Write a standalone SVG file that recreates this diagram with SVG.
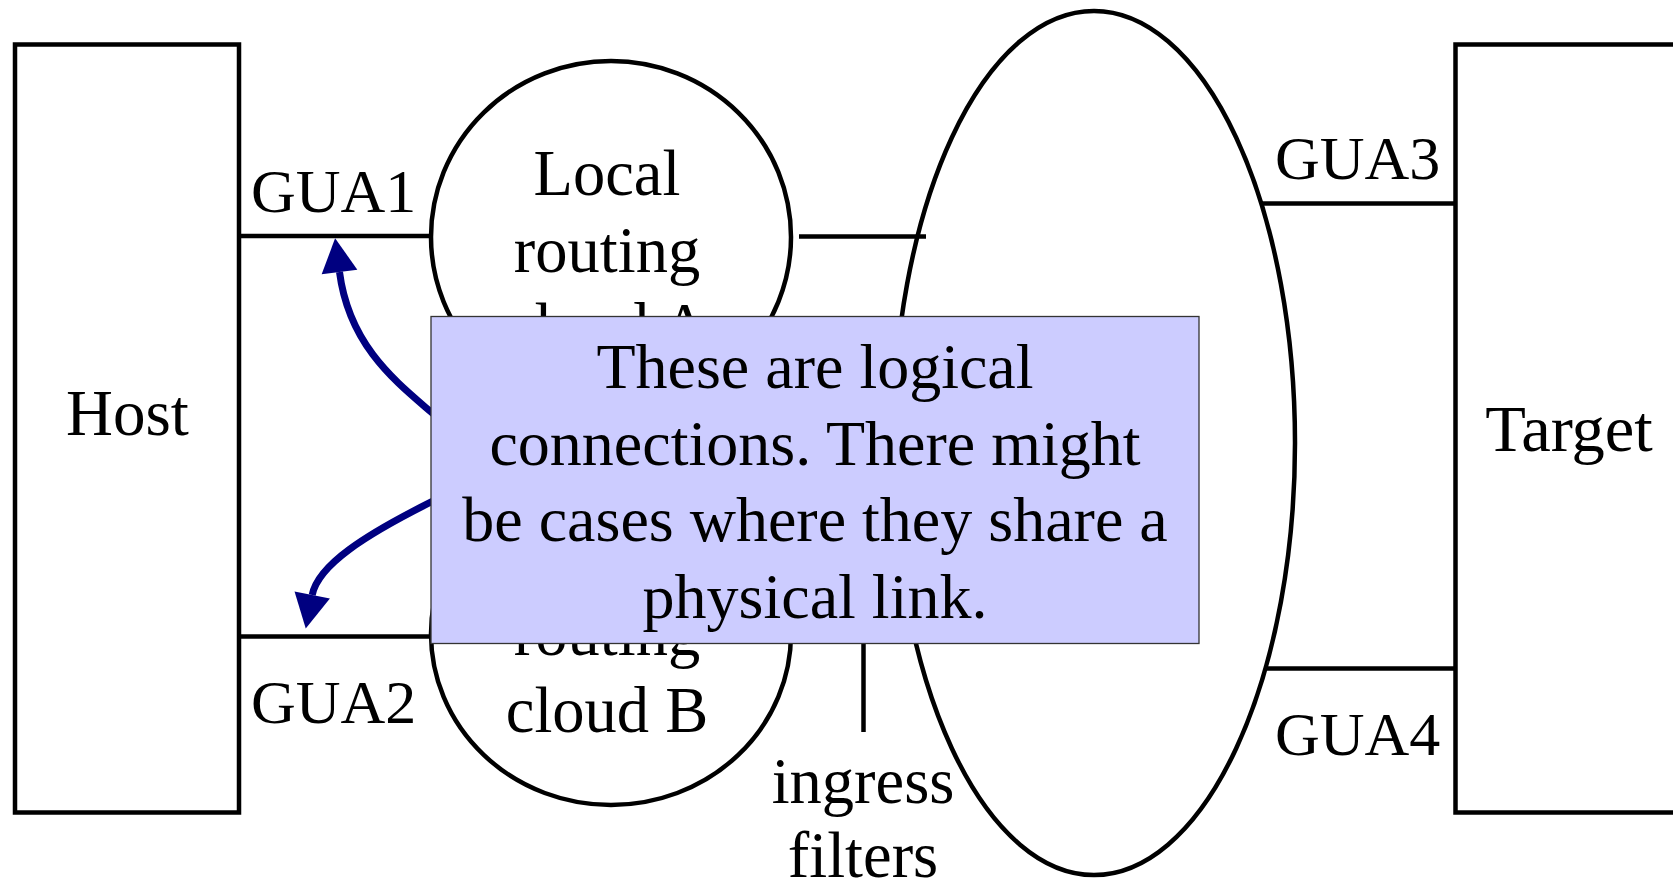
<svg xmlns="http://www.w3.org/2000/svg" width="1673" height="885" viewBox="0 0 1673 885">
<defs>
<style>
.shape{fill:#fff;stroke:#000;stroke-width:4.5}
.ln{stroke:#000;stroke-width:4.5;fill:none}
.t{font-family:"Liberation Serif","Times New Roman",serif;font-size:64.5px;fill:#000}
.g{font-size:62px}
.c{text-anchor:middle}
.arr{stroke:#000080;stroke-width:7;fill:none}
.note{fill:#CCCCFF;stroke:#333;stroke-width:1.3}
.nt{font-family:"Liberation Serif","Times New Roman",serif;font-size:64px;fill:#000;text-anchor:middle}
</style>
<marker id="ah" markerUnits="userSpaceOnUse" viewBox="0 -18 34 36" refX="0" refY="0" markerWidth="34" markerHeight="36" orient="auto" overflow="visible">
<path d="M0,-18 L34,0 L0,18 z" fill="#000080"/>
</marker>
</defs>
<rect width="1673" height="885" fill="#fff"/>

<g id="host">
<rect class="shape" x="15" y="44.5" width="224" height="768"/>
<text class="t c" x="127.5" y="435" style="font-size:65px">Host</text>
</g>

<g id="cloudA">
<ellipse class="shape" cx="611" cy="237" rx="180" ry="176"/>
<text class="t c" x="607" y="195">Local</text>
<text class="t c" x="607" y="271.7">routing</text>
<text class="t c" x="607" y="348.4">cloud A</text>
</g>

<g id="cloudB">
<ellipse class="shape" cx="611" cy="634" rx="180" ry="171"/>
<text class="t c" x="607" y="578.3">Local</text>
<text class="t c" x="607" y="655">routing</text>
<text class="t c" x="607" y="731.7">cloud B</text>
</g>

<g id="core">
<ellipse class="shape" cx="1094" cy="443" rx="201" ry="432"/>
</g>

<g id="target">
<rect class="shape" x="1455.5" y="44.5" width="232" height="768"/>
<text class="t c" x="1569" y="451" style="font-size:66.5px">Target</text>
</g>

<g id="connectors">
<line class="ln" x1="239" y1="236" x2="431" y2="236"/>
<line class="ln" x1="239" y1="636.5" x2="431" y2="636.5"/>
<line class="ln" x1="799" y1="236.5" x2="926" y2="236.5"/>
<line class="ln" x1="799" y1="636" x2="921" y2="636"/>
<line class="ln" x1="863.5" y1="636" x2="863.5" y2="732"/>
<line class="ln" x1="1262" y1="203.5" x2="1455.5" y2="203.5"/>
<line class="ln" x1="1266" y1="668.5" x2="1455.5" y2="668.5"/>
<path class="arr" d="M 440 420 L 431 412 C 395 381, 349 345, 339.5 272" marker-end="url(#ah)"/>
<path class="arr" d="M 440 498 L 431.7 501.7 C 365 535, 318 565, 312.2 595" marker-end="url(#ah)"/>
</g>

<g id="labels">
<text class="t g" x="251" y="211.7">GUA1</text>
<text class="t g" x="251" y="723.3">GUA2</text>
<text class="t g" x="1275" y="178.5">GUA3</text>
<text class="t g" x="1275" y="755">GUA4</text>
<text class="t c" x="863" y="803.3">ingress</text>
<text class="t c" x="863" y="876.7">filters</text>
</g>

<g id="note">
<rect class="note" x="431" y="316.5" width="768" height="327"/>
<text class="nt" x="815" y="388">These are logical</text>
<text class="nt" x="815" y="464.7">connections. There might</text>
<text class="nt" x="815" y="541.4">be cases where they share a</text>
<text class="nt" x="815" y="618.1">physical link.</text>
</g>
</svg>
